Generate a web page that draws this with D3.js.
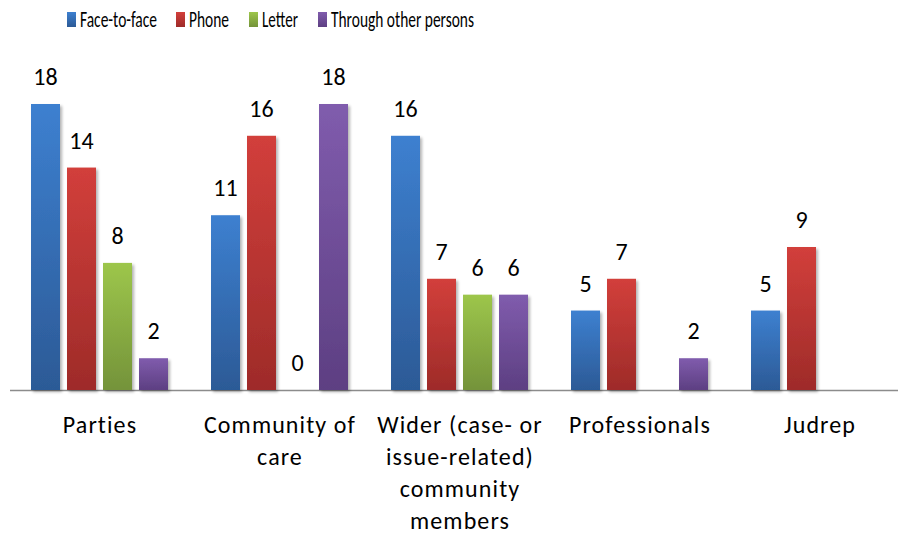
<!DOCTYPE html>
<html><head><meta charset="utf-8">
<script src="https://cdn.jsdelivr.net/npm/d3@7"></script>
<style>body{margin:0;background:#fff}svg{display:block}text{font-family:Carlito,Lato,"Open Sans",sans-serif;fill:#000}</style>
</head><body><svg id="c" width="898" height="535"></svg>
<script>
const categories = ["Parties", "Community of care", "Wider (case- or issue-related) community members", "Professionals", "Judrep"];
const categoryLines = [["Parties"], ["Community of", "care"], ["Wider (case- or", "issue-related)", "community", "members"], ["Professionals"], ["Judrep"]];
const seriesNames = ["Face-to-face", "Phone", "Letter", "Through other persons"];
const faceToFace = [18, 11, 16, 5, 5];
const phone = [14, 16, 7, 7, 9];
const letter = [8, 0, 6, null, null];
const throughOthers = [2, 18, 6, 2, null];
const seriesValues = [faceToFace, phone, letter, throughOthers];
const colors = [["#3d80d0", "#2c5a96"], ["#d23f3b", "#9e2b29"], ["#9dc64b", "#74933a"], ["#805cad", "#5d3f82"]];

const svg = d3.select("#c");
const baseY = 390;
const x0 = d3.scaleBand().domain(categories).range([10, 910]).paddingInner(0).paddingOuter(0);
const x1 = d3.scaleBand().domain(seriesNames).range([21, 158]).paddingInner(7 / 36).paddingOuter(0);
const y = d3.scaleLinear().domain([0, 18]).range([baseY, 104]);

const defs = svg.append("defs");
colors.forEach((c, i) => {
  const g = defs.append("linearGradient").attr("id", "g" + i).attr("x1", 0).attr("y1", 0).attr("x2", 0).attr("y2", 1);
  g.append("stop").attr("offset", "0%").attr("stop-color", c[0]);
  g.append("stop").attr("offset", "100%").attr("stop-color", c[1]);
});
const f = defs.append("filter").attr("id", "sh").attr("x", "-20%").attr("y", "-10%").attr("width", "150%").attr("height", "130%");
f.append("feGaussianBlur").attr("in", "SourceAlpha").attr("stdDeviation", 1.5);
f.append("feOffset").attr("dx", 1.5).attr("dy", 1.5).attr("result", "b");
f.append("feComponentTransfer").append("feFuncA").attr("type", "linear").attr("slope", 0.3);
const m = f.append("feMerge"); m.append("feMergeNode"); m.append("feMergeNode").attr("in", "SourceGraphic");

// axis line
svg.append("line").attr("x1", 10).attr("x2", 898).attr("y1", baseY + 0.5).attr("y2", baseY + 0.5).attr("stroke", "#8c8c8c").attr("stroke-width", 1.5);

const groups = svg.selectAll("g.cat").data(categories).join("g").attr("class", "cat")
  .attr("transform", d => `translate(${x0(d)},0)`);

groups.each(function(cat, ci) {
  const g = d3.select(this);
  seriesNames.forEach((s, si) => {
    const v = seriesValues[si][ci];
    if (v === null) return;
    if (v > 0) {
      g.append("rect").attr("x", x1(s)).attr("width", x1.bandwidth())
        .attr("y", y(v)).attr("height", baseY - y(v))
        .attr("fill", `url(#g${si})`).attr("filter", "url(#sh)");
    }
    g.append("text").attr("x", x1(s) + x1.bandwidth() / 2).attr("y", y(v) - 19)
      .attr("text-anchor", "middle").attr("font-size", 24).text(v);
  });
  const t = g.append("text").attr("text-anchor", "middle").attr("font-size", 24).attr("letter-spacing", 1.1);
  categoryLines[ci].forEach((ln, li) => {
    t.append("tspan").attr("x", x0.bandwidth() / 2).attr("y", 433 + li * 32).text(ln);
  });
});

// legend
const legX = [67, 176, 249, 318];
const legW = [77, 40, 36, 143];
const leg = svg.selectAll("g.leg").data(seriesNames).join("g").attr("class", "leg")
  .attr("transform", (d, i) => `translate(${legX[i]},0)`);
leg.append("rect").attr("x", 0).attr("y", 12).attr("width", 9).attr("height", 15).attr("fill", (d, i) => `url(#g${i})`);
leg.append("text").attr("x", 13).attr("y", 27).attr("font-size", 22)
  .attr("textLength", (d, i) => legW[i]).attr("lengthAdjust", "spacingAndGlyphs").text(d => d);
</script></body></html>
